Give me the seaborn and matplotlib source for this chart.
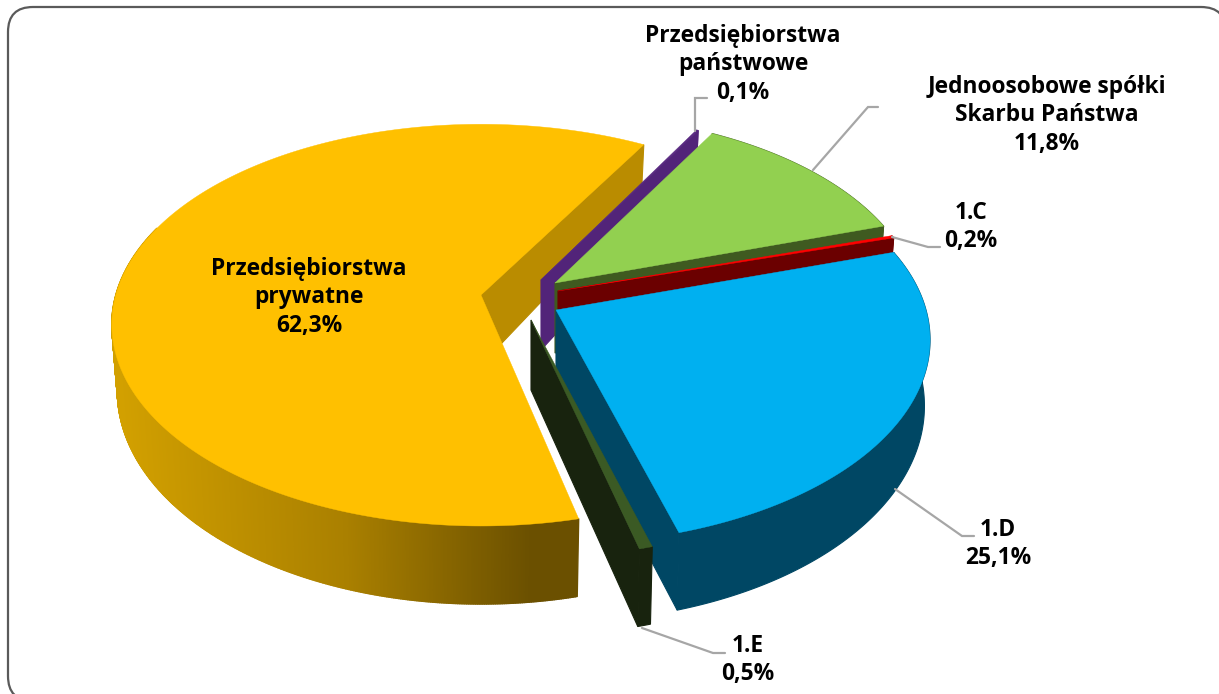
"""
Struktura - wykres kolowy 3D (rysowany w seaborn/matplotlib)
"""

import numpy as np
import matplotlib
matplotlib.use('Agg')
import matplotlib.pyplot as plt
from matplotlib.colors import to_rgb
from matplotlib.collections import PolyCollection
from matplotlib.patches import FancyBboxPatch
import seaborn as sns

# dane
categories = ['Przedsiębiorstwa\nprywatne', 'Przedsiębiorstwa\npaństwowe',
              'Jednoosobowe spółki\nSkarbu Państwa', '1.C', '1.D', '1.E']
values = [62.3, 0.1, 11.8, 0.2, 25.1, 0.5]
value_labels = ['62,3%', '0,1%', '11,8%', '0,2%', '25,1%', '0,5%']

top_colors = ['#FFC000', '#5A2A82', '#92D050', '#FF0000', '#00B0F0', '#3B5A24']
cut_colors = ['#BA8C00', '#522479', '#3F5A20', '#6B0000', '#004764', '#18230E']
wall_colors = ['#FFC000', '#522479', '#3F5A20', '#6B0000', '#004764', '#18230E']

# wierzcholki wycinkow po rozsunieciu (piksele obrazu)
apex_x = [481, 541, 555, 558, 556, 531]
apex_y = [295, 280, 283, 291, 310, 320]
# korekty perspektywy dla kazdego wycinka
radius_scale = [0.987, 0.975, 0.975, 0.985, 1.0, 1.015]
angle_shift = [1.1, 0, 0, 0.7, -0.5, 0]

label_x = [309, 743, 1047, 971, 998, 748]
label_y = [297, 64, 115, 227, 544, 660]

leaders = [
    [(695, 131), (695, 98), (707, 98)],
    [(813, 170), (868, 107), (878, 107)],
    [(892, 237), (928, 247), (940, 247)],
    [(895, 489), (962, 536), (974, 536)],
    [(642, 628), (713, 653), (725, 653)],
]

START = 165.4   # kat poczatkowy, zgodnie z ruchem wskazowek od gory
R = 370
PERSP = 0.15
SQUASH = 0.55
H_RIM = 64
H_APEX = 70
BOTTOM_SCALE = 0.985
W, H = 1219, 694

sns.set_theme(style='white')
plt.rcParams['font.family'] = ['Open Sans', 'DejaVu Sans']


def rim(i, theta):
    """punkt na krawedzi gornej powierzchni"""
    t = np.radians(theta)
    r = R * radius_scale[i] * (1 - PERSP * np.cos(t))
    return apex_x[i] + r * np.sin(t), apex_y[i] - SQUASH * r * np.cos(t)


def rim_low(i, theta):
    """punkt na dolnej krawedzi sciany"""
    x, y = rim(i, theta)
    h = H_RIM * (1 - 0.22 * np.cos(np.radians(theta)))
    return apex_x[i] + BOTTOM_SCALE * (x - apex_x[i]), y + h


def shade_yellow(x):
    """cieniowanie sciany bocznej - od lewej jasniej, w prawo ciemniej"""
    light = np.array(to_rgb('#D2A000'))
    mid = np.array(to_rgb('#AA8000'))
    dark = np.array(to_rgb('#6B5000'))
    f = np.clip((x - 118) / (530 - 118), 0, 1)
    if f < 0.55:
        return light + (mid - light) * f / 0.55
    return mid + (dark - mid) * (f - 0.55) / 0.45


fig, ax = plt.subplots(figsize=(W / 100, H / 100), dpi=100)
ax.set_position([0, 0, 1, 1])
ax.set_xlim(0, W)
ax.set_ylim(H, 0)
ax.axis('off')

# ramka
ax.add_patch(FancyBboxPatch((8, 7), 1218, 694, boxstyle='round,pad=0,rounding_size=25',
                            fc='white', ec='#5A5A5A', lw=1.6, zorder=0))

edges = np.cumsum([0] + values) / sum(values) * 360 + START

for i in range(len(values)):
    t0, t1 = edges[i] + angle_shift[i], edges[i + 1] + angle_shift[i]
    base = i * 5 + 1
    thetas = np.linspace(t0, t1, max(int((t1 - t0) * 4), 2) + 1)

    # sciana zewnetrzna
    if i == 0:
        quads, cols = [], []
        for a, b in zip(thetas[:-1], thetas[1:]):
            if np.cos(np.radians((a + b) / 2)) > 0.35:
                continue
            quads.append([rim(i, a), rim(i, b), rim_low(i, b), rim_low(i, a)])
            cols.append(shade_yellow(rim(i, (a + b) / 2)[0]))
        ax.add_collection(PolyCollection(quads, facecolors=cols, edgecolors=cols,
                                         linewidths=1.0, zorder=base))
    else:
        wall = [rim(i, t) for t in thetas] + [rim_low(i, t) for t in thetas[::-1]]
        ax.fill([p[0] for p in wall], [p[1] for p in wall], color=wall_colors[i],
                lw=0.8, zorder=base)

    # sciana promieniowa (ta, ktora patrzy w strone widza)
    far = rim(i, t1)
    low = rim_low(i, t1)
    ax.fill([apex_x[i], far[0], low[0], apex_x[i]],
            [apex_y[i], far[1], low[1], apex_y[i] + H_APEX],
            color=cut_colors[i], lw=0.8, zorder=base + 1)

    # gorna powierzchnia
    pts = [rim(i, t) for t in thetas]
    ax.fill([apex_x[i]] + [p[0] for p in pts], [apex_y[i]] + [p[1] for p in pts],
            color=top_colors[i], lw=0.3, zorder=base + 2)

# linie odniesienia
for line in leaders:
    ax.plot([p[0] for p in line], [p[1] for p in line], color='#A6A6A6', lw=1.6,
            solid_joinstyle='miter', zorder=60)

# opisy
for i, name in enumerate(categories):
    ax.text(label_x[i], label_y[i], name + '\n' + value_labels[i], ha='center', va='center',
            fontsize=16.4, fontweight='bold', color='black', linespacing=1.25, zorder=70)

fig.savefig('out.png', dpi=100)
